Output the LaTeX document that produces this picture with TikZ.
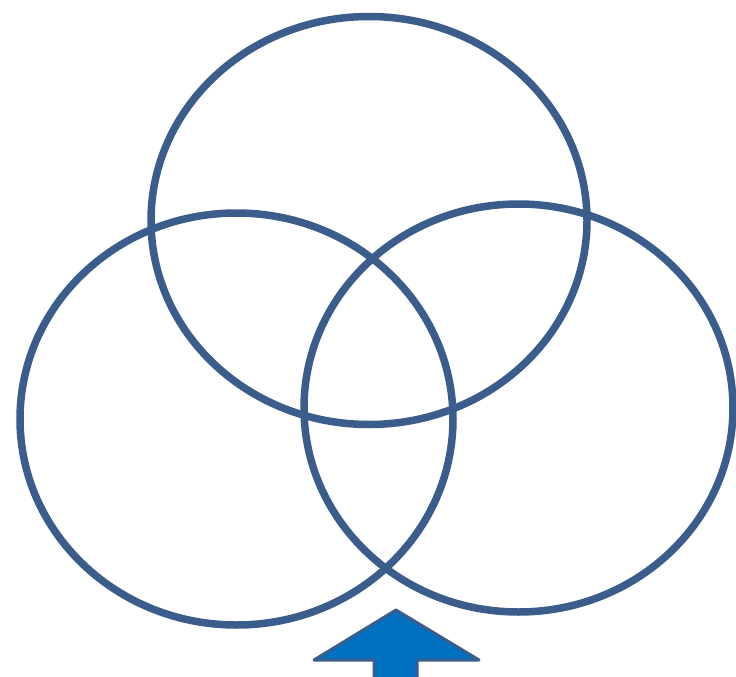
\documentclass[tikz,border=0pt]{standalone}
\usepackage{tikz}
\usetikzlibrary{shapes.geometric}

\definecolor{ringblue}{HTML}{3A5D8C}
\definecolor{arrowblue}{HTML}{0070C0}

\begin{document}
\begin{tikzpicture}[
  x=1pt, y=-1pt,
  ring/.style={draw=ringblue, line width=7.5pt, ellipse, inner sep=0pt},
  pfeil/.style={draw=ringblue, fill=arrowblue, line width=3pt, line join=round}]

  \useasboundingbox (0,0) rectangle (736,677);

  \node[ring, minimum width=436pt, minimum height=408pt] (oben)   at (369,220.5) {};
  \node[ring, minimum width=433pt, minimum height=412pt] (links)  at (236.5,419) {};
  \node[ring, minimum width=429pt, minimum height=408pt] (rechts) at (518.5,408) {};

  \draw[pfeil] (396,610) -- (314,660) -- (374,660) -- (374,690)
               -- (417,690) -- (417,660) -- (479,660) -- cycle;
\end{tikzpicture}
\end{document}
